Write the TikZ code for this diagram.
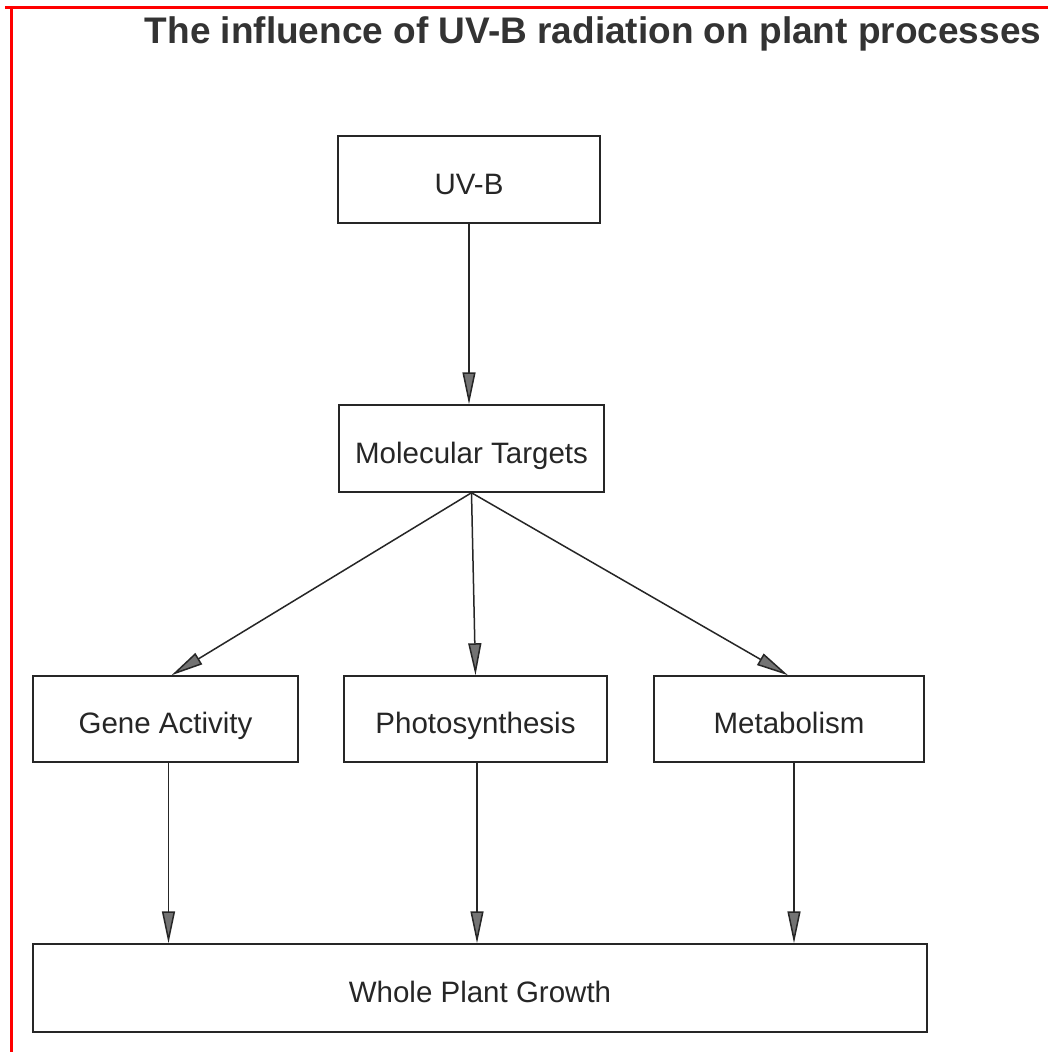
\documentclass[tikz,border=0pt]{standalone}
\usepackage{fontspec}
\setmainfont{Liberation Sans}
\usetikzlibrary{arrows.meta}

\tikzset{
  box/.style={draw=black!85,line width=1.5pt,minimum height=87pt,
    text height=29pt,text depth=0pt,
    font=\fontsize{29.5}{32}\selectfont,text=black!85},
  arr/.style={draw=black!85,line width=1.5pt,
    -{Triangle[length=32pt,width=13pt,fill=black!55]}}
}

\begin{document}
\begin{tikzpicture}[x=1pt,y=-1pt]
    \useasboundingbox[fill=white] (0,0) rectangle (1048,1052);
    \draw[red,line width=3pt] (5,7) -- (1048,7) (11,7) -- (11,1052);
    \node[anchor=base,font=\fontsize{37}{40}\selectfont\bfseries,text=black!80]
      (title) at (593,43) {The influence of UV-B radiation on plant processes};
    \node[box,minimum width=262pt] (uvb) at (469,179.5) {UV-B};
    \node[box,minimum width=265pt] (mol) at (471.5,448.5) {Molecular Targets};
    \node[box,minimum width=894pt,minimum height=88pt] (whole) at (480,988) {Whole Plant Growth};
    \draw[arr] (uvb.south) -- (uvb.south |- mol.north);
    \foreach \n/\x/\w/\t/\a/\b in {gene/165.5/265/Gene Activity/6/3,
        photo/475.5/263/Photosynthesis/0/1.5,metab/789/270/Metabolism/-1/5}{
      \node[box,minimum width=\w pt,minimum height=86pt] (\n) at (\x,719) {\t};
      \draw[arr] (mol.south) -- ([xshift=\a pt]\n.north);
      \draw[arr] ([xshift=\b pt]\n.south) -- ([xshift=\b pt]\n.south |- whole.north);
    }
\end{tikzpicture}
\end{document}
